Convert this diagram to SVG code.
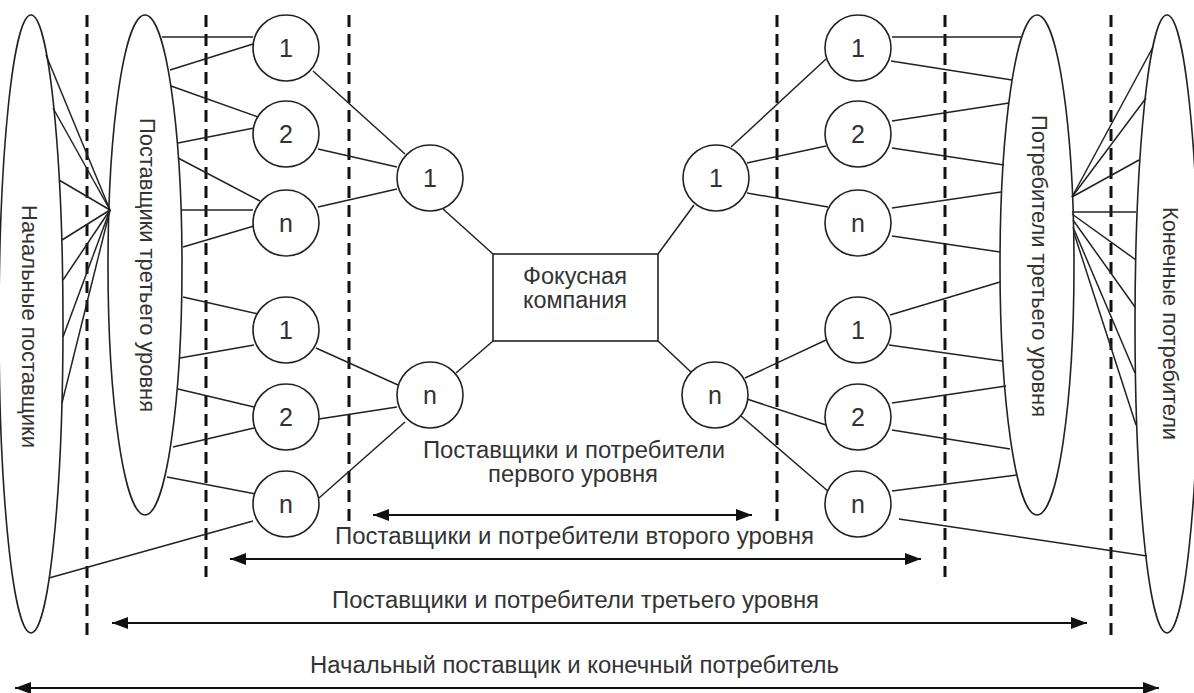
<svg xmlns="http://www.w3.org/2000/svg" width="1194" height="693" viewBox="0 0 1194 693">
<defs>
<marker id="ah" markerUnits="userSpaceOnUse" markerWidth="17" markerHeight="13" refX="16" refY="6" orient="auto-start-reverse" viewBox="0 0 17 13">
<path d="M0,0 L16,6 L0,12 z" fill="#111"/>
</marker>
<style>
.n{fill:#fff;stroke:#222;stroke-width:1.6}
.e{fill:none;stroke:#222;stroke-width:1.6}
.c line{stroke:#222;stroke-width:1.5}
.d{stroke:#111;stroke-width:3;stroke-dasharray:12 7}
.a{stroke:#111;stroke-width:2;marker-start:url(#ah);marker-end:url(#ah)}
text{font-family:"Liberation Sans",Arial,sans-serif;fill:#333}
.t{font-size:23px}
.r{font-size:22px}
.g{font-size:25px;text-anchor:middle}
</style>
</defs>
<rect width="1194" height="693" fill="#fff"/>

<g id="dividers">
<line class="d" x1="87" y1="15" x2="87" y2="640"/>
<line class="d" x1="206" y1="15" x2="206" y2="577"/>
<line class="d" x1="349" y1="15" x2="349" y2="527"/>
<line class="d" x1="777" y1="15" x2="777" y2="527"/>
<line class="d" x1="945" y1="15" x2="945" y2="577"/>
<line class="d" x1="1111" y1="15" x2="1111" y2="640"/>
</g>

<g id="connectors" class="c">
<line x1="110" y1="210" x2="46" y2="55"/>
<line x1="110" y1="210" x2="53" y2="108"/>
<line x1="110" y1="210" x2="59" y2="180"/>
<line x1="110" y1="210" x2="62" y2="240"/>
<line x1="110" y1="210" x2="63" y2="280"/>
<line x1="110" y1="210" x2="63" y2="337"/>
<line x1="110" y1="210" x2="62" y2="403"/>
<line x1="162" y1="37" x2="253" y2="37"/>
<line x1="170" y1="70" x2="253" y2="44"/>
<line x1="171" y1="86" x2="258" y2="117"/>
<line x1="178" y1="143" x2="254" y2="128"/>
<line x1="178" y1="158" x2="260" y2="201"/>
<line x1="181" y1="210" x2="253" y2="210"/>
<line x1="183" y1="247" x2="254" y2="226"/>
<line x1="183" y1="297" x2="258" y2="314"/>
<line x1="180" y1="358" x2="254" y2="345"/>
<line x1="178" y1="389" x2="254" y2="407"/>
<line x1="173" y1="447" x2="254" y2="428"/>
<line x1="167" y1="477" x2="256" y2="494"/>
<line x1="49" y1="578" x2="253" y2="521"/>
<line x1="313" y1="71" x2="405" y2="154"/>
<line x1="318" y1="149" x2="397" y2="167"/>
<line x1="318" y1="207" x2="397" y2="189"/>
<line x1="316" y1="348" x2="398" y2="385"/>
<line x1="319" y1="419" x2="397" y2="407"/>
<line x1="319" y1="498" x2="405" y2="422"/>
<line x1="443" y1="209" x2="493" y2="254"/>
<line x1="456" y1="373" x2="493" y2="341"/>
<line x1="658" y1="254" x2="694" y2="205"/>
<line x1="658" y1="341" x2="692" y2="373"/>
<line x1="731" y1="147" x2="826" y2="59"/>
<line x1="747" y1="163" x2="826" y2="146"/>
<line x1="747" y1="193" x2="828" y2="207"/>
<line x1="745" y1="378" x2="826" y2="340"/>
<line x1="747" y1="399" x2="826" y2="425"/>
<line x1="741" y1="416" x2="829" y2="492"/>
<line x1="892" y1="37" x2="1021" y2="37"/>
<line x1="891" y1="61" x2="1012" y2="80"/>
<line x1="892" y1="121" x2="1009" y2="103"/>
<line x1="892" y1="148" x2="1004" y2="165"/>
<line x1="892" y1="208" x2="1001" y2="192"/>
<line x1="892" y1="236" x2="1000" y2="252"/>
<line x1="890" y1="315" x2="1000" y2="282"/>
<line x1="889" y1="345" x2="1002" y2="361"/>
<line x1="892" y1="403" x2="1006" y2="386"/>
<line x1="892" y1="430" x2="1010" y2="449"/>
<line x1="892" y1="491" x2="1017" y2="475"/>
<line x1="899" y1="519" x2="1147" y2="556"/>
<line x1="1072" y1="197" x2="1153" y2="47"/>
<line x1="1072" y1="197" x2="1146" y2="98"/>
<line x1="1072" y1="197" x2="1139" y2="160"/>
<line x1="1072" y1="212" x2="1136" y2="212"/>
<line x1="1072" y1="214" x2="1136" y2="260"/>
<line x1="1073" y1="220" x2="1135" y2="307"/>
<line x1="1073" y1="227" x2="1135" y2="373"/>
<line x1="1074" y1="233" x2="1136" y2="425"/>
</g>

<g id="initial-suppliers">
<ellipse class="e" cx="31" cy="324" rx="32" ry="309"/>
<text class="r" transform="translate(30,205) rotate(90)" x="0" y="8" textLength="243" lengthAdjust="spacingAndGlyphs">Начальные поставщики</text>
</g>
<g id="tier3-suppliers">
<ellipse class="e" cx="145" cy="265" rx="37" ry="250"/>
<text class="r" transform="translate(148,118) rotate(90)" x="0" y="8" textLength="294" lengthAdjust="spacingAndGlyphs">Поставщики третьего уровня</text>
</g>
<g id="tier3-consumers">
<ellipse class="e" cx="1037" cy="265" rx="37" ry="250"/>
<text class="r" transform="translate(1040,115) rotate(90)" x="0" y="8" textLength="302" lengthAdjust="spacingAndGlyphs">Потребители третьего уровня</text>
</g>
<g id="end-consumers">
<ellipse class="e" cx="1167" cy="324" rx="32" ry="309"/>
<text class="r" transform="translate(1171,207) rotate(90)" x="0" y="8" textLength="233" lengthAdjust="spacingAndGlyphs">Конечные потребители</text>
</g>

<g id="s2-1"><circle class="n" cx="286" cy="48" r="33"/><text class="g" x="286" y="57">1</text></g>
<g id="s2-2"><circle class="n" cx="286" cy="134" r="33"/><text class="g" x="286" y="143">2</text></g>
<g id="s2-n"><circle class="n" cx="286" cy="223" r="33"/><text class="g" x="286" y="232">n</text></g>
<g id="s2-1b"><circle class="n" cx="286" cy="330" r="33"/><text class="g" x="286" y="339">1</text></g>
<g id="s2-2b"><circle class="n" cx="286" cy="417" r="33"/><text class="g" x="286" y="426">2</text></g>
<g id="s2-nb"><circle class="n" cx="286" cy="504" r="33"/><text class="g" x="286" y="513">n</text></g>

<g id="s1-1"><circle class="n" cx="430" cy="178" r="33"/><text class="g" x="430" y="187">1</text></g>
<g id="s1-n"><circle class="n" cx="430" cy="395" r="33"/><text class="g" x="430" y="404">n</text></g>
<g id="c1-1"><circle class="n" cx="716" cy="178" r="33"/><text class="g" x="716" y="187">1</text></g>
<g id="c1-n"><circle class="n" cx="715" cy="395" r="33"/><text class="g" x="715" y="404">n</text></g>

<g id="c2-1"><circle class="n" cx="858" cy="48" r="33"/><text class="g" x="858" y="57">1</text></g>
<g id="c2-2"><circle class="n" cx="858" cy="134" r="33"/><text class="g" x="858" y="143">2</text></g>
<g id="c2-n"><circle class="n" cx="858" cy="223" r="33"/><text class="g" x="858" y="232">n</text></g>
<g id="c2-1b"><circle class="n" cx="858" cy="330" r="33"/><text class="g" x="858" y="339">1</text></g>
<g id="c2-2b"><circle class="n" cx="858" cy="417" r="33"/><text class="g" x="858" y="426">2</text></g>
<g id="c2-nb"><circle class="n" cx="858" cy="504" r="33"/><text class="g" x="858" y="513">n</text></g>

<g id="focus">
<rect class="n" x="493" y="254" width="165" height="87"/>
<text class="t" x="523" y="284" textLength="104" lengthAdjust="spacingAndGlyphs">Фокусная</text>
<text class="t" x="523" y="308" textLength="104" lengthAdjust="spacingAndGlyphs">компания</text>
</g>

<g id="levels">
<text class="t" x="423" y="458" textLength="302" lengthAdjust="spacingAndGlyphs">Поставщики и потребители</text>
<text class="t" x="488" y="482" textLength="170" lengthAdjust="spacingAndGlyphs">первого уровня</text>
<line class="a" x1="373" y1="515" x2="752" y2="515"/>
<text class="t" x="335" y="544" textLength="479" lengthAdjust="spacingAndGlyphs">Поставщики и потребители второго уровня</text>
<line class="a" x1="230" y1="559" x2="921" y2="559"/>
<text class="t" x="332" y="608" textLength="487" lengthAdjust="spacingAndGlyphs">Поставщики и потребители третьего уровня</text>
<line class="a" x1="112" y1="623" x2="1087" y2="623"/>
<text class="t" x="310" y="673" textLength="529" lengthAdjust="spacingAndGlyphs">Начальный поставщик и конечный потребитель</text>
<line class="a" x1="15" y1="688" x2="1159" y2="688"/>
</g>
</svg>
